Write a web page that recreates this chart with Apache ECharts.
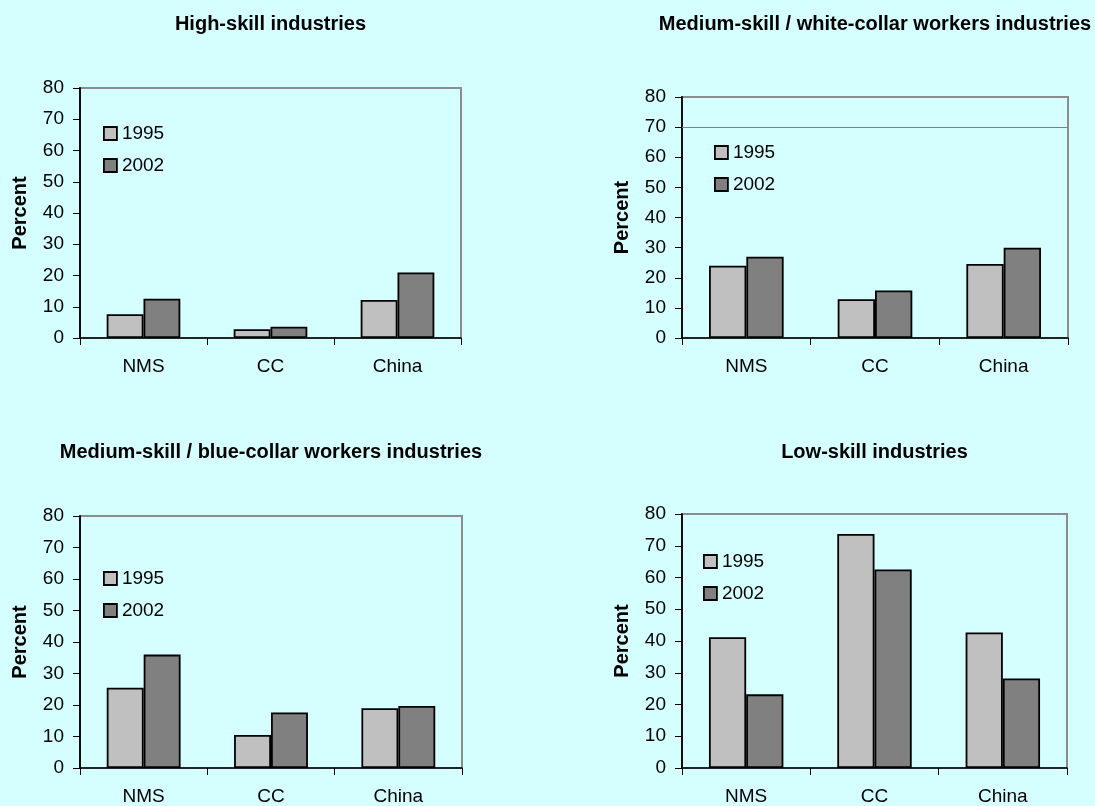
<!DOCTYPE html>
<html>
<head>
<meta charset="utf-8">
<script src="https://cdn.jsdelivr.net/npm/echarts@6/dist/echarts.min.js"></script>
<style>
html,body{margin:0;padding:0;background:#D5FFFF;}
#chart{width:1095px;height:806px;}
</style>
</head>
<body>
<div id="chart"></div>
<script>
const categories = ['NMS', 'CC', 'China'];
const seriesNames = ['1995', '2002'];
const panelTitles = [
  'High-skill industries',
  'Medium-skill / white-collar workers industries',
  'Medium-skill / blue-collar workers industries',
  'Low-skill industries'
];
const yMin = 0, yMax = 80, yInterval = 10;
const high1995 = [7.6, 2.8, 12.2];
const high2002 = [12.6, 3.6, 21.0];
const white1995 = [24.0, 12.9, 24.6];
const white2002 = [27.0, 15.8, 30.0];
const blue1995 = [25.5, 10.5, 19.0];
const blue2002 = [36.0, 17.6, 19.7];
const low1995 = [41.2, 73.7, 42.7];
const low2002 = [23.2, 62.5, 28.2];
const refLineValue = 70; // horizontal line in the white-collar panel

const panelData = [
  [high1995, high2002],
  [white1995, white2002],
  [blue1995, blue2002],
  [low1995, low2002]
];

const FONT = 'Liberation Sans, Arial, sans-serif';
const grids = [
  {left: 80, top: 88, width: 381, height: 250},
  {left: 682, top: 97, width: 386, height: 241},
  {left: 80, top: 516, width: 382, height: 252},
  {left: 682, top: 514, width: 385, height: 254}
];
const titleTops = [14, 14, 442, 442];
const legendPos = [
  {left: 103, top: 124},
  {left: 714, top: 143},
  {left: 103, top: 569},
  {left: 703, top: 552}
];
const colors = ['#C0C0C0', '#808080'];

const option = {
  backgroundColor: '#D5FFFF',
  animation: false,
  title: grids.map((g, i) => ({
    text: panelTitles[i],
    left: g.left + g.width / 2,
    top: titleTops[i],
    textAlign: 'center',
    padding: 0,
    textStyle: {fontFamily: FONT, fontSize: 20, fontWeight: 'bold', color: '#000'}
  })),
  legend: legendPos.map((p) => ({
    data: seriesNames,
    orient: 'vertical',
    left: p.left,
    top: p.top,
    padding: 0,
    itemWidth: 13,
    itemHeight: 13,
    itemGap: 13,
    icon: 'rect',
    selectedMode: false,
    itemStyle: {borderColor: '#000', borderWidth: 1.8},
    textStyle: {fontFamily: FONT, fontSize: 19, color: '#000', padding: [0, 0, 0, 0]}
  })),
  grid: grids.map(g => Object.assign({show: true, borderColor: '#8c8c8c', borderWidth: 2, backgroundColor: 'transparent'}, g)),
  xAxis: grids.map((g, i) => ({
    type: 'category',
    gridIndex: i,
    data: categories,
    axisLine: {lineStyle: {color: '#000', width: 1.5}},
    axisTick: {show: true, length: 7, lineStyle: {color: '#000', width: 1}},
    axisLabel: {fontFamily: FONT, fontSize: 19, color: '#000', margin: 19},
    splitLine: {show: false}
  })),
  yAxis: grids.map((g, i) => ({
    type: 'value',
    gridIndex: i,
    min: yMin,
    max: yMax,
    interval: yInterval,
    name: 'Percent',
    nameLocation: 'middle',
    nameGap: 50,
    nameTextStyle: {fontFamily: FONT, fontSize: 20, fontWeight: 'bold', color: '#000'},
    axisLine: {show: true, lineStyle: {color: '#000', width: 1.8}},
    axisTick: {show: true, length: 7, lineStyle: {color: '#000', width: 1}},
    axisLabel: {fontFamily: FONT, fontSize: 19, color: '#000', margin: 16},
    splitLine: {show: false}
  })),
  series: []
};

panelData.forEach((pair, i) => {
  pair.forEach((vals, j) => {
    const s = {
      type: 'bar',
      name: seriesNames[j],
      xAxisIndex: i,
      yAxisIndex: i,
      data: vals,
      barGap: '0%',
      barCategoryGap: '42%',
      itemStyle: {color: colors[j], borderColor: '#000', borderWidth: 1.8},
      emphasis: {disabled: true}
    };
    if (i === 1 && j === 0) {
      s.markLine = {
        silent: true,
        symbol: ['none', 'none'],
        label: {show: false},
        lineStyle: {color: '#808080', width: 1, type: 'solid'},
        data: [{yAxis: refLineValue}]
      };
    }
    option.series.push(s);
  });
});

const chart = echarts.init(document.getElementById('chart'), null, {renderer: 'canvas'});
chart.setOption(option);
</script>
</body>
</html>
